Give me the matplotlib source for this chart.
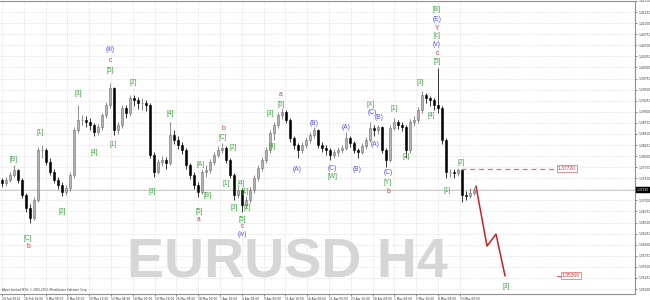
import matplotlib
matplotlib.use("Agg")
import matplotlib.pyplot as plt
from matplotlib.patches import Rectangle

# ---------------- data (EURUSD, candles) ----------------
first_open = 1.3745
closes = [1.3739, 1.3746, 1.3757, 1.3768, 1.3746, 1.3712, 1.3683, 1.3660, 1.3701, 1.3813,
          1.3813, 1.3786, 1.3764, 1.3746, 1.3734, 1.3719, 1.3728, 1.3757, 1.3858, 1.3881,
          1.3881, 1.3876, 1.3870, 1.3854, 1.3865, 1.3892, 1.3915, 1.3953, 1.3858, 1.3870,
          1.3908, 1.3897, 1.3930, 1.3926, 1.3919, 1.3919, 1.3915, 1.3802, 1.3764, 1.3786,
          1.3791, 1.3784, 1.3847, 1.3836, 1.3825, 1.3813, 1.3779, 1.3757, 1.3734, 1.3719,
          1.3764, 1.3768, 1.3786, 1.3802, 1.3813, 1.3818, 1.3791, 1.3757, 1.3712, 1.3723,
          1.3689, 1.3701, 1.3723, 1.3750, 1.3773, 1.3791, 1.3813, 1.3852, 1.3870, 1.3892,
          1.3899, 1.3881, 1.3840, 1.3825, 1.3813, 1.3825, 1.3836, 1.3847, 1.3858, 1.3825,
          1.3818, 1.3813, 1.3802, 1.3809, 1.3813, 1.3818, 1.3840, 1.3829, 1.3813, 1.3809,
          1.3822, 1.3836, 1.3863, 1.3858, 1.3865, 1.3813, 1.3791, 1.3863, 1.3876, 1.3870,
          1.3865, 1.3813, 1.3876, 1.3881, 1.3903, 1.3937, 1.3930, 1.3926, 1.3915, 1.3908,
          1.3836, 1.3764, 1.3764, 1.3761, 1.3768, 1.3712, 1.3710, 1.3717, 1.3723]
highs = [1.3750, 1.3752, 1.3764, 1.3779, 1.3772, 1.3750, 1.3717, 1.3692, 1.3708, 1.3820,
         1.3825, 1.3818, 1.3795, 1.3770, 1.3752, 1.3741, 1.3734, 1.3764, 1.3865, 1.3915,
         1.3892, 1.3890, 1.3885, 1.3874, 1.3872, 1.3897, 1.3922, 1.3966, 1.3957, 1.3878,
         1.3915, 1.3915, 1.3937, 1.3937, 1.3933, 1.3930, 1.3926, 1.3919, 1.3809, 1.3793,
         1.3800, 1.3797, 1.3876, 1.3858, 1.3845, 1.3831, 1.3818, 1.3784, 1.3764, 1.3741,
         1.3770, 1.3779, 1.3793, 1.3809, 1.3822, 1.3829, 1.3822, 1.3795, 1.3761, 1.3730,
         1.3728, 1.3710, 1.3730, 1.3757, 1.3779, 1.3797, 1.3820, 1.3858, 1.3876, 1.3899,
         1.3908, 1.3903, 1.3885, 1.3845, 1.3829, 1.3831, 1.3843, 1.3854, 1.3865, 1.3861,
         1.3831, 1.3825, 1.3818, 1.3816, 1.3820, 1.3825, 1.3854, 1.3845, 1.3834, 1.3818,
         1.3829, 1.3843, 1.3876, 1.3870, 1.3870, 1.3868, 1.3818, 1.3870, 1.3885, 1.3881,
         1.3876, 1.3870, 1.3883, 1.3890, 1.3910, 1.3948, 1.3942, 1.3935, 1.3930, 1.3998,
         1.3912, 1.3840, 1.3772, 1.3772, 1.3773, 1.3770, 1.3721, 1.3728, 1.3730]
lows = [1.3730, 1.3732, 1.3741, 1.3752, 1.3739, 1.3705, 1.3674, 1.3649, 1.3655, 1.3696,
        1.3795, 1.3780, 1.3757, 1.3739, 1.3725, 1.3710, 1.3712, 1.3721, 1.3750, 1.3852,
        1.3870, 1.3865, 1.3858, 1.3845, 1.3847, 1.3860, 1.3885, 1.3908, 1.3847, 1.3850,
        1.3863, 1.3885, 1.3890, 1.3912, 1.3906, 1.3903, 1.3901, 1.3795, 1.3752, 1.3759,
        1.3777, 1.3772, 1.3780, 1.3827, 1.3816, 1.3804, 1.3772, 1.3748, 1.3725, 1.3707,
        1.3714, 1.3752, 1.3761, 1.3779, 1.3797, 1.3806, 1.3784, 1.3750, 1.3701, 1.3705,
        1.3674, 1.3683, 1.3694, 1.3717, 1.3743, 1.3766, 1.3784, 1.3806, 1.3836, 1.3863,
        1.3883, 1.3874, 1.3831, 1.3816, 1.3795, 1.3806, 1.3818, 1.3829, 1.3840, 1.3818,
        1.3809, 1.3802, 1.3791, 1.3795, 1.3800, 1.3806, 1.3813, 1.3820, 1.3806, 1.3795,
        1.3804, 1.3816, 1.3831, 1.3845, 1.3849, 1.3806, 1.3775, 1.3786, 1.3858, 1.3861,
        1.3856, 1.3795, 1.3806, 1.3867, 1.3874, 1.3897, 1.3919, 1.3912, 1.3903, 1.3897,
        1.3827, 1.3750, 1.3752, 1.3750, 1.3755, 1.3696, 1.3701, 1.3705, 1.3712]

date_labels = ["24 Feb 2014", "26 Feb 16:00", "3 Mar 08:00", "6 Mar 00:00", "10 Mar 16:00",
               "13 Mar 08:00", "18 Mar 00:00", "20 Mar 16:00", "25 Mar 08:00", "28 Mar 00:00",
               "1 Apr 16:00", "4 Apr 08:00", "9 Apr 00:00", "11 Apr 16:00", "16 Apr 08:00",
               "21 Apr 00:00", "23 Apr 16:00", "28 Apr 08:00", "1 May 00:00", "5 May 16:00",
               "8 May 08:00", "13 May 00:00"]
date_step = 5.45  # candles between date labels

price_tick_min = 1.3500
price_tick_step = 0.0025
price_tick_count = 27

level_resist = 1.3772
level_target = 1.3530
level_resist_text = "1.37720"
level_target_text = "1.35300"

proj_x = [118.5, 121.25, 123.5, 125.75]
proj_price = [1.3732, 1.3597, 1.3624, 1.3530]

# wave labels: (text, candle position, price, colour key)
wave_labels = [
    ("[B]", 3.0, 1.3793, "g"), ("[C]", 6.5, 1.3615, "g"), ("b", 6.5, 1.3595, "r"),
    ("[1]", 9.5, 1.3854, "g"), ("[2]", 15.0, 1.3676, "g"), ("[3]", 19.0, 1.3942, "g"),
    ("[4]", 23.0, 1.3807, "g"), ("(iii)", 27.0, 1.4041, "b"), ("c", 27.0, 1.4016, "r"),
    ("[5]", 27.0, 1.3993, "g"), ("[1]", 27.75, 1.3827, "g"), ("[2]", 32.75, 1.3966, "g"),
    ("[3]", 37.5, 1.3719, "g"), ("[4]", 42.0, 1.3897, "g"), ("[5]", 49.25, 1.3676, "g"),
    ("a", 49.25, 1.3658, "r"), ("[A]", 49.75, 1.3782, "g"), ("[B]", 51.5, 1.3712, "g"),
    ("b", 55.25, 1.3863, "r"), ("[C]", 55.25, 1.3843, "g"), ("[2]", 57.75, 1.3820, "g"),
    ("[1]", 56.0, 1.3739, "g"), ("[3]", 58.0, 1.3685, "g"), ("[4]", 59.75, 1.3739, "g"),
    ("[1]", 60.75, 1.3719, "g"), ("[2]", 61.25, 1.3685, "g"), ("[5]", 60.0, 1.3658, "g"),
    ("c", 60.0, 1.3642, "r"), ("(iv)", 60.0, 1.3622, "b"), ("[3]", 67.0, 1.3897, "g"),
    ("[4]", 67.5, 1.3822, "g"), ("[5]", 69.75, 1.3917, "g"), ("a", 69.75, 1.3939, "r"),
    ("(A)", 73.75, 1.3770, "b"), ("(B)", 78.0, 1.3874, "b"), ("(C)", 82.5, 1.3773, "b"),
    ("[W]", 82.5, 1.3755, "g"), ("(A)", 86.0, 1.3865, "b"), ("(B)", 88.75, 1.3770, "b"),
    ("[X]", 92.25, 1.3917, "g"), ("(C)", 92.5, 1.3899, "b"), ("(B)", 94.25, 1.3888, "b"),
    ("(A)", 93.25, 1.3827, "b"), ("(C)", 96.5, 1.3762, "b"), ("[Y]", 96.5, 1.3741, "g"),
    ("b", 96.5, 1.3719, "r"), ("[1]", 98.0, 1.3908, "g"), ("[2]", 101.0, 1.3798, "g"),
    ("[3]", 104.5, 1.3966, "g"), ("[4]", 107.25, 1.3892, "g"),
    ("[B]", 108.75, 1.4131, "g"), ("(E)", 108.75, 1.4108, "b"), ("Y", 108.75, 1.4088, "r"),
    ("[c]", 108.75, 1.4072, "g"), ("(v)", 108.75, 1.4052, "b"), ("c", 108.75, 1.4032, "r"),
    ("[5]", 108.75, 1.4014, "g"), ("[1]", 111.25, 1.3723, "g"), ("[2]", 114.75, 1.3786, "g"),
    ("[3]", 126.0, 1.3505, "g"),
]

watermark = "EURUSD H4"
copyright_text = "Alpari Limited MT4, \u00a9 2001-2013, MetaQuotes Software Corp."

# ---------------- style ----------------
colors = {"g": "#3aa83a", "r": "#d03a3a", "b": "#5050e8"}
LABEL_FONT = "Liberation Sans"

fig = plt.figure(figsize=(6.5, 3.0), dpi=100)
fig.patch.set_facecolor("white")
ax = fig.add_axes([0.0, 6 / 300, 635 / 650, 293 / 300])
ax.set_facecolor("white")
ax.set_xlim(-0.5, 158.25)
ax.set_ylim(1.34888, 1.41490)

# grid
tick_x = [k * date_step for k in range(len(date_labels))]
tick_y = [price_tick_min + k * price_tick_step for k in range(price_tick_count)]
for x in tick_x:
    ax.axvline(x, color="#c8c8c8", lw=0.5, ls=(0, (1, 2)), zorder=0)
for y in tick_y:
    ax.axhline(y, color="#c8c8c8", lw=0.5, ls=(0, (1, 2)), zorder=0)

# watermark
ax.text(71.25, 1.3558, watermark, fontsize=40, fontweight="bold", color="#d6d6d6",
        ha="center", va="center", family=LABEL_FONT, zorder=0.5)

# candles
opens = [first_open] + closes[:-1]
body_w = 0.5
for i, (o, c, h, l) in enumerate(zip(opens, closes, highs, lows)):
    bull = c >= o
    col = "#6e6e6e" if bull else "#000000"
    ax.vlines(i, l, h, color=col, lw=0.55, zorder=2)
    lo, hi = min(o, c), max(o, c)
    ax.add_patch(Rectangle((i - body_w / 2, lo), body_w, max(hi - lo, 0.00004),
                           facecolor="#b4b4b4" if bull else "black", edgecolor=col,
                           lw=0.4, zorder=3))

# bid line and price box
last = closes[-1]
ax.axhline(last, color="#c0c0c0", lw=0.6, zorder=1)
ax.text(1.003, last, f"{last:.5f}", transform=ax.get_yaxis_transform(), fontsize=2.2,
        color="white", ha="left", va="center",
        bbox=dict(boxstyle="square,pad=0.35", fc="black", ec="black", lw=0.3),
        zorder=10, clip_on=False)

# resistance level
ax.plot([114.75, 138.75], [level_resist, level_resist], color="#e05858", lw=0.9,
        ls=(0, (4, 3)), alpha=0.85, zorder=4)
ax.text(139.0, level_resist, level_resist_text, fontsize=3.6, color="#cc3030",
        ha="left", va="center", family=LABEL_FONT,
        bbox=dict(boxstyle="square,pad=0.2", fc="white", ec="#e08080", lw=0.6), zorder=5)
# target level
ax.plot([138.75, 139.5], [level_target, level_target], color="#e06060", lw=0.8, zorder=4)
ax.text(139.9, level_target, level_target_text, fontsize=3.6, color="#cc3030",
        ha="left", va="center", family=LABEL_FONT,
        bbox=dict(boxstyle="square,pad=0.2", fc="white", ec="#e08080", lw=0.6), zorder=5)

# projection path
ax.plot(proj_x, proj_price, color="#cc2020", lw=1.1, zorder=4)

# wave labels
for txt, x, y, ck in wave_labels:
    ax.text(x, y, txt, fontsize=4.8, color=colors[ck], ha="center", va="center",
            family=LABEL_FONT, zorder=6)

# axes styling
ax.spines["left"].set_visible(False)
for s in ["right", "bottom", "top"]:
    ax.spines[s].set_color("#909090")
    ax.spines[s].set_linewidth(0.8)

ax.yaxis.tick_right()
ax.set_yticks(tick_y)
# the black price box takes the place of the label next to the last price
ax.set_yticklabels(["" if abs(v - last) < 0.0013 else f"{v:.5f}" for v in tick_y],
                   fontsize=2.2, color="#333333")
ax.tick_params(axis="y", length=1.5, width=0.4, pad=0.8, colors="#333333")

ax.set_xticks(tick_x)
ax.set_xticklabels(date_labels, fontsize=2.1, color="#333333", ha="left")
ax.tick_params(axis="x", length=1.5, width=0.4, pad=0.6, colors="#333333")

fig.text(2 / 650, 1 - 290 / 300, copyright_text, fontsize=2.0, color="#404040",
         ha="left", va="center")

fig.savefig("out.png", dpi=100, facecolor="white")
